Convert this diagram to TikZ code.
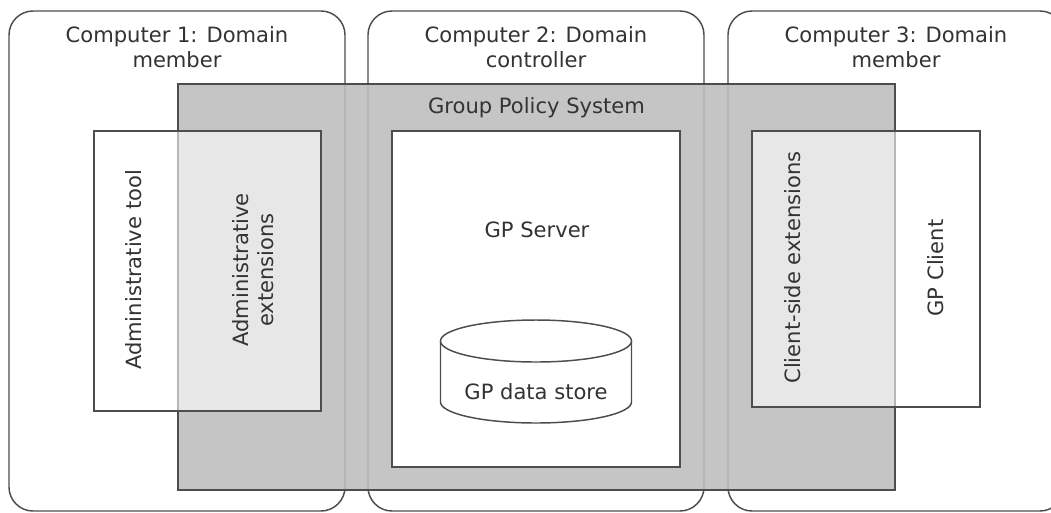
\documentclass[tikz,border=0pt]{standalone}
\usepackage{fontspec}
\setmainfont{DejaVu Sans}
\definecolor{linec}{HTML}{4D4D4D}
\definecolor{textc}{HTML}{333333}
\definecolor{gpgray}{HTML}{BDBDBD}
\begin{document}
\begin{tikzpicture}[x=0.75pt,y=-0.75pt,
  lbl/.style={font=\fontsize{15.8}{18.8}\selectfont, text=textc, inner sep=0pt, align=center},
  title/.style={lbl, anchor=north},
  comp/.style={draw=linec, line width=1.1pt, fill=white, rounded corners=18pt},
  gps/.style={draw=linec, line width=1.5pt, fill=gpgray, fill opacity=0.88},
  part/.style={draw=linec, line width=1.5pt, fill=white, fill opacity=0.6},
  srv/.style={draw=linec, line width=1.5pt, fill=white},
  cyl/.style={draw=linec, line width=1.1pt, fill=white}]
\clip (0,0) rectangle (1051,512);
\fill[white] (0,0) rectangle (1051,512);

% computers
\draw[comp] (9,11) rectangle (345,511);
\draw[comp] (368,11) rectangle (704,511);
\draw[comp] (728,11) rectangle (1064,511);
\node[title] (c1) at (177,26.5) {Computer 1: Domain\\member};
\node[title] (c2) at (536,26.5) {Computer 2: Domain\\controller};
\node[title] (c3) at (896,26.5) {Computer 3: Domain\\member};

% group policy system band
\draw[gps] (178,84) rectangle (895,490);
\node[lbl, anchor=base] (gps) at (536.5,113) {Group Policy System};

% administrative tool / extensions
\draw[part] (94,131) rectangle (321,411);
\node[lbl, rotate=90] (admt) at (133.5,270) {Administrative tool};
\node[lbl, rotate=90] (adme) at (253,270) {Administrative\\extensions};

% client side
\draw[part] (752,131) rectangle (980,407);
\node[lbl, rotate=90] (cse) at (792.5,267.5) {Client-side extensions};
\node[lbl, rotate=90] (gpc) at (935.5,268) {GP Client};

% server
\draw[srv] (392,131) rectangle (680,467);
\node[lbl, anchor=base] (gpsrv) at (537,237) {GP Server};

% data store cylinder
\draw[cyl] (440.5,341) -- (440.5,402) arc[start angle=180, end angle=0, x radius=95.5, y radius=21] -- (631.5,341);
\draw[cyl] (536,341) ellipse [x radius=95.5, y radius=21];
\node[lbl, anchor=base] (store) at (536,399) {GP data store};
\end{tikzpicture}
\end{document}
